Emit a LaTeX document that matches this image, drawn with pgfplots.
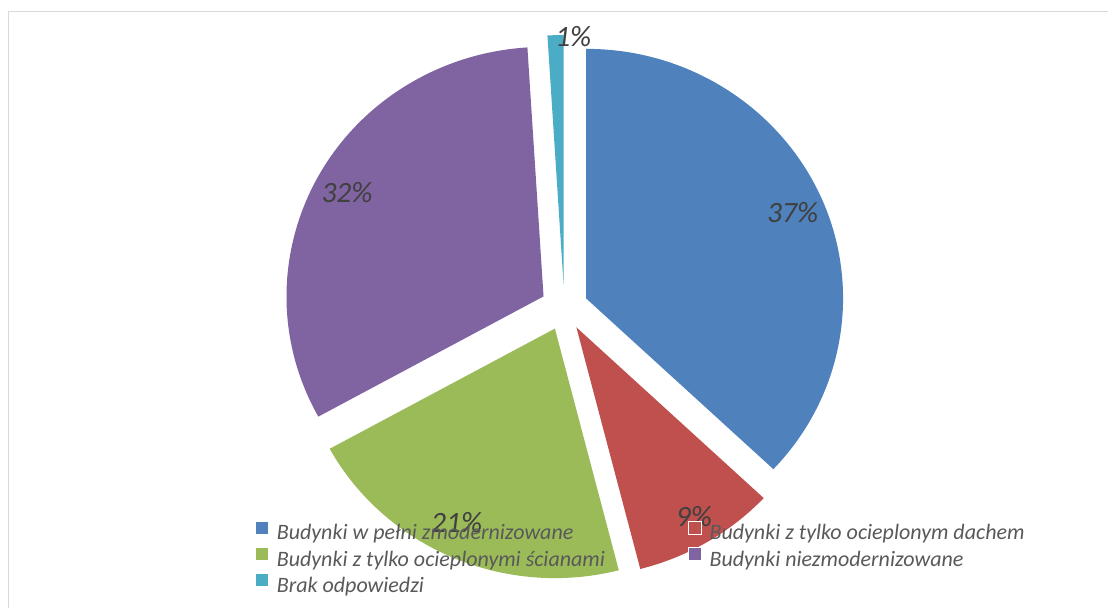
\documentclass[border=0pt]{standalone}
\usepackage{pgfplots}
\usepackage{pgfplotstable}
\pgfplotsset{compat=1.18}
\usepackage{fontspec}
\setmainfont{Carlito}
\definecolor{pblue}{HTML}{4F81BD}
\definecolor{pred}{HTML}{C0504D}
\definecolor{pgreen}{HTML}{9BBB59}
\definecolor{ppurple}{HTML}{8064A2}
\definecolor{pteal}{HTML}{4BACC6}
\definecolor{labgray}{HTML}{404040}
\definecolor{leggray}{HTML}{595959}
\definecolor{framegray}{HTML}{D9D9D9}

\pgfplotstableread{
value color
37 pblue
9 pred
21 pgreen
32 ppurple
1 pteal
}\piedata

\begin{document}
\begin{tikzpicture}
\begin{axis}[name=ax, scale only axis, width=1108pt, height=608pt,
  xmin=0, xmax=1108, ymin=0, ymax=608, hide axis, clip=false,
  legend columns=2, legend cell align=left,
  legend style={at={(axis cs:255,87.5)}, anchor=north west, draw=none, fill=none,
    inner sep=0pt, row sep=3.5pt,
    font=\fontsize{22}{26}\selectfont\itshape, text=leggray,
    /tikz/every odd column/.append style={column sep=6pt},
    /tikz/every even column/.append style={column sep=81pt}},
  legend image code/.code={\filldraw[#1, line width=0.6pt] (0pt,-1pt) rectangle (13pt,12pt);},
]
\addlegendimage{fill=pblue, draw=white}
\addlegendentry{Budynki w pełni zmodernizowane}
\addlegendimage{fill=pred, draw=white}
\addlegendentry{Budynki z tylko ocieplonym dachem}
\addlegendimage{fill=pgreen, draw=white}
\addlegendentry{Budynki z tylko ocieplonymi ścianami}
\addlegendimage{fill=ppurple, draw=white}
\addlegendentry{Budynki niezmodernizowane}
\addlegendimage{fill=pteal, draw=white}
\addlegendentry{Brak odpowiedzi}

\pgfplotsextra{
  \xdef\cum{0}
  \pgfplotstablegetrowsof{\piedata}
  \pgfmathtruncatemacro\nrows{\pgfplotsretval-1}
  \foreach \i in {0,...,\nrows}{
    \pgfplotstablegetelem{\i}{value}\of\piedata \let\sv\pgfplotsretval
    \pgfplotstablegetelem{\i}{color}\of\piedata \let\scol\pgfplotsretval
    \pgfmathsetmacro\aone{90-3.6*\cum}
    \pgfmathsetmacro\atwo{90-3.6*(\cum+\sv)}
    \pgfmathsetmacro\amid{(\aone+\atwo)/2}
    \pgfmathsetmacro\vx{564.3+23.7*cos(\amid)}
    \pgfmathsetmacro\vy{300.5+23*sin(\amid)}
    \fill[fill=\scol] (axis cs:\vx,\vy) -- ++(\aone:257pt and 249.5pt)
      arc[start angle=\aone, end angle=\atwo, x radius=257pt, y radius=249.5pt] -- cycle;
    \pgfmathsetmacro\newcum{\cum+\sv}
    \xdef\cum{\newcum}
  }
}

\draw[framegray, line width=1.3pt] (axis cs:8.7,0) -- (axis cs:8.7,596.3) -- (axis cs:1108,596.3);

\begin{scope}[every node/.style={font=\fontsize{29.5}{34}\selectfont\itshape, text=labgray}]
\node at (axis cs:792.7,395) {37\%};
\node at (axis cs:694,91.7) {9\%};
\node at (axis cs:456.7,85) {21\%};
\node at (axis cs:347,415) {32\%};
\node at (axis cs:573.3,571.3) {1\%};
\end{scope}
\end{axis}
\pgfresetboundingbox
\useasboundingbox (ax.south west) rectangle (ax.north east);
\end{tikzpicture}
\end{document}
